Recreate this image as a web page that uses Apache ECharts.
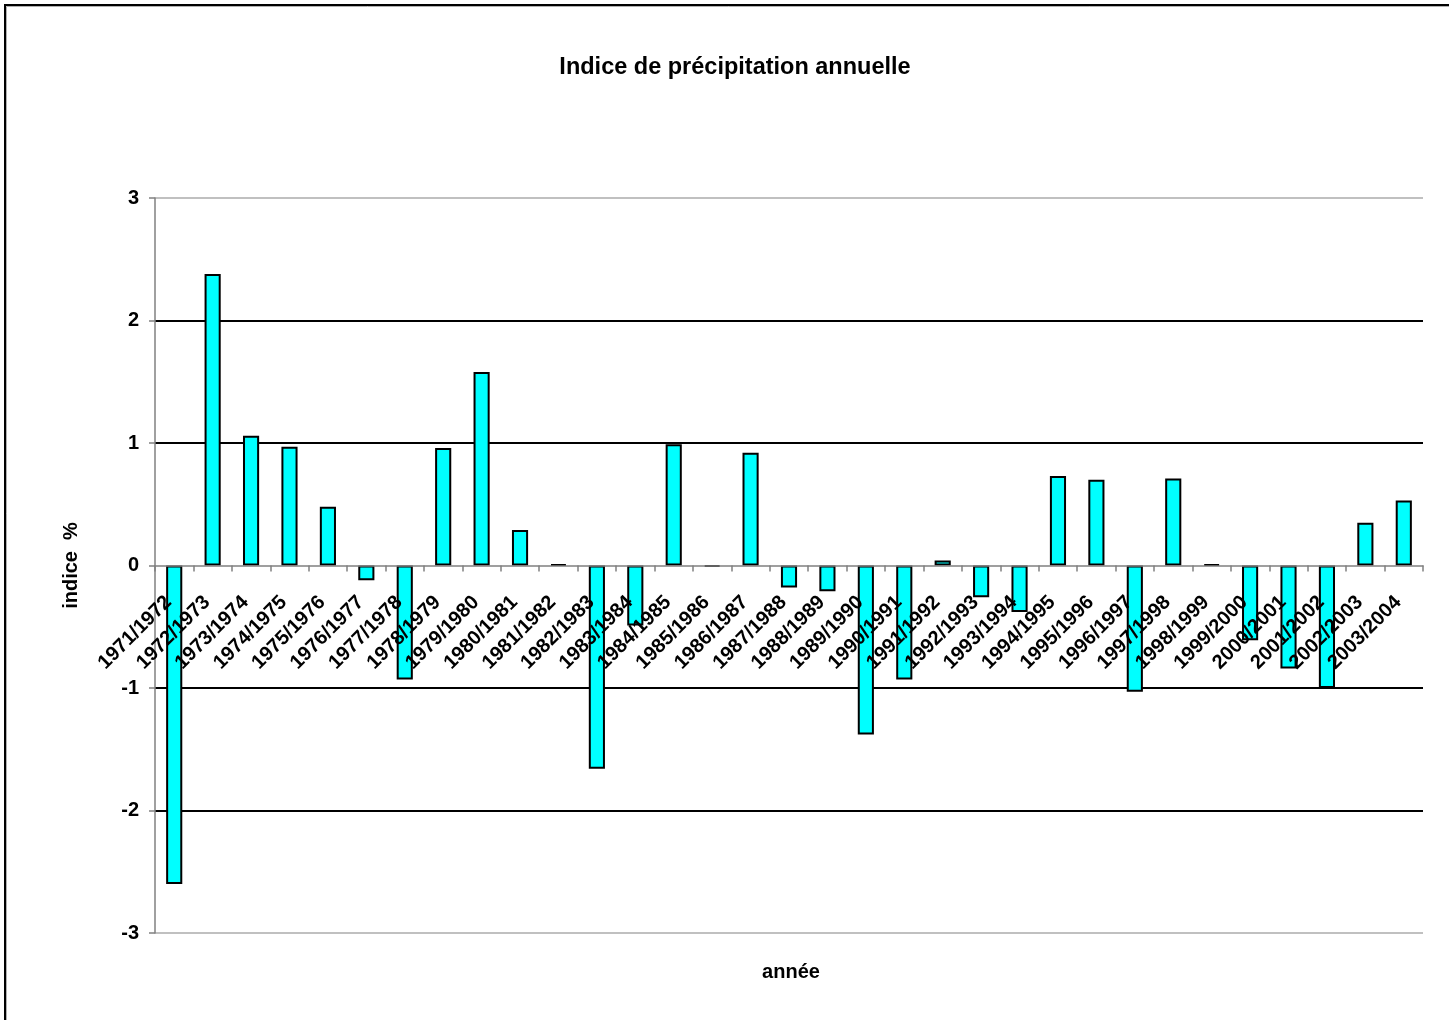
<!DOCTYPE html>
<html>
<head>
<meta charset="utf-8">
<title>Indice de précipitation annuelle</title>
<script src="https://cdn.jsdelivr.net/npm/echarts@6/dist/echarts.min.js"></script>
<style>
  html, body { margin: 0; padding: 0; background: #fff; }
  #chart { width: 1449px; height: 1020px; }
</style>
</head>
<body>
<div id="chart"></div>
<script>
// Hydrological years
const years = [
  '1971/1972', '1972/1973', '1973/1974', '1974/1975', '1975/1976', '1976/1977',
  '1977/1978', '1978/1979', '1979/1980', '1980/1981', '1981/1982', '1982/1983',
  '1983/1984', '1984/1985', '1985/1986', '1986/1987', '1987/1988', '1988/1989',
  '1989/1990', '1990/1991', '1991/1992', '1992/1993', '1993/1994', '1994/1995',
  '1995/1996', '1996/1997', '1997/1998', '1998/1999', '1999/2000', '2000/2001',
  '2001/2002', '2002/2003', '2003/2004'
];

// Annual precipitation index (%)
const indexValues = [
  -2.60, 2.38, 1.06, 0.97, 0.48, -0.12,
  -0.93, 0.96, 1.58, 0.29, 0.01, -1.66,
  -0.49, 0.99, -0.01, 0.92, -0.18, -0.21,
  -1.38, -0.93, 0.04, -0.26, -0.38, 0.73,
  0.70, -1.03, 0.71, 0.01, -0.61, -0.84,
  -1.00, 0.35, 0.53
];

// Value axis ticks
const yTicks = [-3, -2, -1, 0, 1, 2, 3];

const FONT = "'Liberation Sans', Arial, sans-serif";
const LABEL_GAP = 28; // distance of the year labels below the zero line

const chart = echarts.init(document.getElementById('chart'), null, { renderer: 'canvas' });

// Grid line colours, from the lowest tick to the highest
const gridColours = yTicks.map(function (v, i) {
  if (i === 0 || i === yTicks.length - 1) return '#c0c0c0';
  if (v === 0) return 'rgba(0,0,0,0)';
  return '#000000';
});

chart.setOption({
  animation: false,
  backgroundColor: '#ffffff',
  textStyle: { fontFamily: FONT },
  title: [
    {
      text: 'Indice de précipitation annuelle',
      left: 730,
      top: 51,
      textAlign: 'center',
      textStyle: { fontFamily: FONT, fontSize: 23.5, fontWeight: 'bold', color: '#000' }
    },
    {
      // x-axis caption, centred under the plot area
      text: 'année',
      left: 786,
      top: 957,
      textAlign: 'center',
      textStyle: { fontFamily: FONT, fontSize: 20, fontWeight: 'bold', color: '#000' }
    }
  ],
  graphic: [
    {
      type: 'rect',
      silent: true,
      shape: { x: 5, y: 5, width: 1500, height: 1100 },
      style: { fill: 'none', stroke: '#000', lineWidth: 2 }
    },
    {
      type: 'rect',
      silent: true,
      shape: { x: 6.5, y: 6.5, width: 1500, height: 1100 },
      style: { fill: 'none', stroke: '#b0b0b0', lineWidth: 1 }
    }
  ],
  grid: { left: 155, right: 26, top: 198, bottom: 87, containLabel: false, outerBoundsMode: 'none' },
  xAxis: {
    type: 'category',
    data: years,
    position: 'bottom',
    z: 5, // year labels sit on top of the bars
    axisLine: { show: true, onZero: true, lineStyle: { color: '#808080', width: 1.5 } },
    axisTick: { show: true, alignWithLabel: false, length: 6, inside: false, lineStyle: { color: '#808080', width: 1.5 } },
    axisLabel: {
      interval: 0,
      rotate: 45,
      margin: LABEL_GAP,
      padding: [0, 8, 0, 0],
      fontFamily: FONT,
      fontSize: 20,
      fontWeight: 'bold',
      color: '#000'
    },
    splitLine: { show: false }
  },
  yAxis: {
    type: 'value',
    min: yTicks[0],
    max: yTicks[yTicks.length - 1],
    interval: 1,
    name: 'indice  %',
    nameLocation: 'middle',
    nameGap: 74,
    nameRotate: 90,
    nameTextStyle: { fontFamily: FONT, fontSize: 20, fontWeight: 'bold', color: '#000' },
    axisLine: { show: true, lineStyle: { color: '#808080', width: 1.5 } },
    axisTick: { show: true, inside: false, length: 6, lineStyle: { color: '#808080', width: 1.5 } },
    axisLabel: {
      margin: 16,
      fontFamily: FONT,
      fontSize: 20,
      fontWeight: 'bold',
      color: '#000'
    },
    splitLine: { show: true, lineStyle: { color: gridColours, width: 2 } }
  },
  series: [
    {
      type: 'bar',
      name: 'indice',
      data: indexValues,
      barWidth: '42%',
      z: 2,
      itemStyle: { color: '#00ffff', borderColor: '#000', borderWidth: 2 }
    }
  ]
});

// Keep the year labels hanging just under the zero line rather than the plot's lower edge
const zeroY = chart.convertToPixel({ yAxisIndex: 0 }, 0);
const floorY = chart.convertToPixel({ yAxisIndex: 0 }, yTicks[0]);
chart.setOption({
  xAxis: { axisLabel: { margin: LABEL_GAP - (floorY - zeroY) } }
});
</script>
</body>
</html>
